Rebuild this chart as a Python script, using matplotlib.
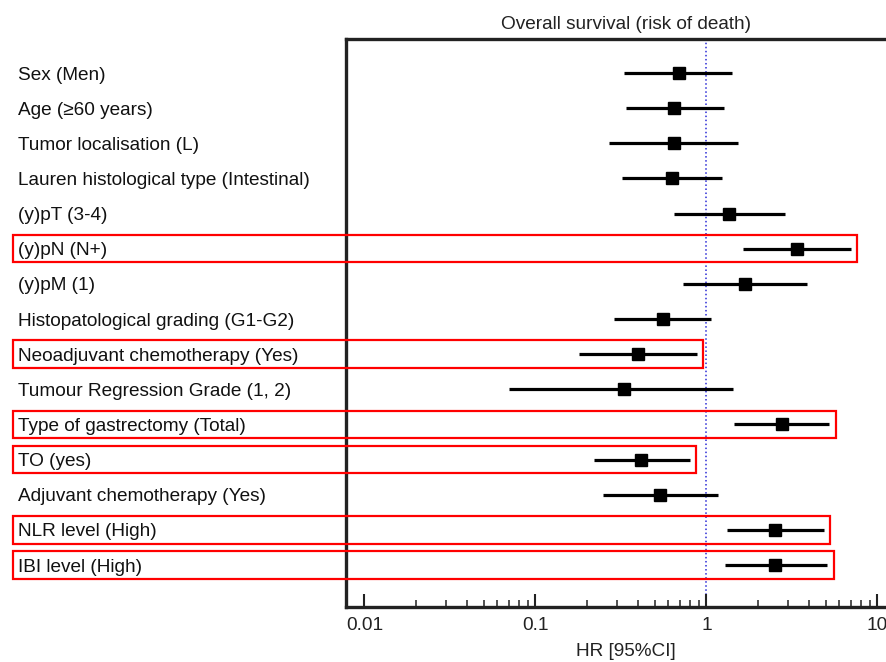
"""
Forest plot: overall survival (risk of death), HR with 95% CI
"""

import matplotlib.pyplot as plt
import matplotlib.patches as patches
import matplotlib.transforms as mtransforms
from matplotlib.ticker import NullFormatter, FixedLocator, FixedFormatter

plt.rcParams['font.family'] = ['Liberation Sans', 'DejaVu Sans']

# Variables (top to bottom)
LABELS = [
    'Sex (Men)',
    'Age (\u226560 years)',
    'Tumor localisation (L)',
    'Lauren histological type (Intestinal)',
    '(y)pT (3-4)',
    '(y)pN (N+)',
    '(y)pM (1)',
    'Histopatological grading (G1-G2)',
    'Neoadjuvant chemotherapy (Yes)',
    'Tumour Regression Grade (1, 2)',
    'Type of gastrectomy (Total)',
    'TO (yes)',
    'Adjuvant chemotherapy (Yes)',
    'NLR level (High)',
    'IBI level (High)',
]

HR = [0.69, 0.65, 0.645, 0.63, 1.35, 3.38, 1.68, 0.555, 0.40, 0.33, 2.75, 0.416, 0.537, 2.52, 2.52]
CI_LOW = [0.33, 0.34, 0.27, 0.32, 0.65, 1.64, 0.73, 0.29, 0.18, 0.070, 1.45, 0.22, 0.25, 1.32, 1.28]
CI_HIGH = [1.42, 1.26, 1.53, 1.23, 2.87, 7.0, 3.89, 1.06, 0.88, 1.44, 5.23, 0.80, 1.17, 4.86, 5.09]

# rows framed in red (significant)
HIGHLIGHT = [False, False, False, False, False, True, False, False, True, False,
             True, True, False, True, True]

X_TICKS = [0.01, 0.1, 1, 10]
X_TICK_LABELS = ['0.01', '0.1', '1', '10']


def main():
    W, H = 886, 662
    fig = plt.figure(figsize=(W / 100, H / 100), dpi=100)
    # the plot box runs past the right edge of the picture (cut off there)
    ax = fig.add_axes([346 / W, 55 / H, (906 - 346) / W, 568 / H])

    n = len(LABELS)
    ys = list(range(n))

    ax.set_xscale('log')
    ax.set_xlim(0.0078, 14.7)
    ax.set_ylim(n - 1 + 1.195, -0.97)

    # reference line at HR = 1
    ax.axvline(1, color='#2b2bd6', linestyle=':', linewidth=1.1, zorder=1)

    # CI lines and point estimates
    ax.hlines(ys, CI_LOW, CI_HIGH, color='black', linewidth=2.3, zorder=3)
    ax.plot(HR, ys, 's', color='black', markersize=8.6, zorder=4)

    # row labels (left aligned in figure coordinates)
    trans = mtransforms.blended_transform_factory(fig.transFigure, ax.transData)
    for y, lab in zip(ys, LABELS):
        ax.text(18 / W, y, lab, transform=trans, ha='left', va='center_baseline',
                fontsize=13.7, color='#111111')

    # red frames around highlighted rows
    fig.canvas.draw()
    x_left = ax.transData.inverted().transform(
        fig.transFigure.transform((13 / W, 0)))[0]
    for y, hi, flag in zip(ys, CI_HIGH, HIGHLIGHT):
        if not flag:
            continue
        x_right = hi * 1.09
        rect = patches.Rectangle((x_left, y - 0.39), x_right - x_left, 0.78,
                                 fill=False, edgecolor='#ff0000', linewidth=1.6,
                                 clip_on=False, zorder=5)
        ax.add_patch(rect)

    # spines
    for side in ['left', 'top', 'bottom']:
        ax.spines[side].set_linewidth(2.4)
        ax.spines[side].set_color('#222222')
    ax.spines['right'].set_visible(False)

    # ticks (minor ticks only from 0.01 upward)
    minor = [m * 10.0 ** e for e in range(-2, 1) for m in range(2, 10)]
    ax.set_yticks([])
    ax.xaxis.set_major_locator(FixedLocator(X_TICKS))
    ax.xaxis.set_major_formatter(FixedFormatter(X_TICK_LABELS))
    ax.xaxis.set_minor_locator(FixedLocator(minor))
    ax.xaxis.set_minor_formatter(NullFormatter())
    ax.tick_params(axis='x', which='major', direction='in', length=9.4, width=1.5,
                   labelsize=13.7, pad=7, colors='#222222')
    ax.tick_params(axis='x', which='minor', direction='in', length=5, width=1.1,
                   colors='#222222')

    ax.set_xlabel('HR [95%CI]', fontsize=13.7, labelpad=7, color='#222222')
    ax.set_title('Overall survival (risk of death)', fontsize=13.7, pad=7,
                 color='#222222')

    fig.savefig('out.png', dpi=100)


if __name__ == '__main__':
    main()
